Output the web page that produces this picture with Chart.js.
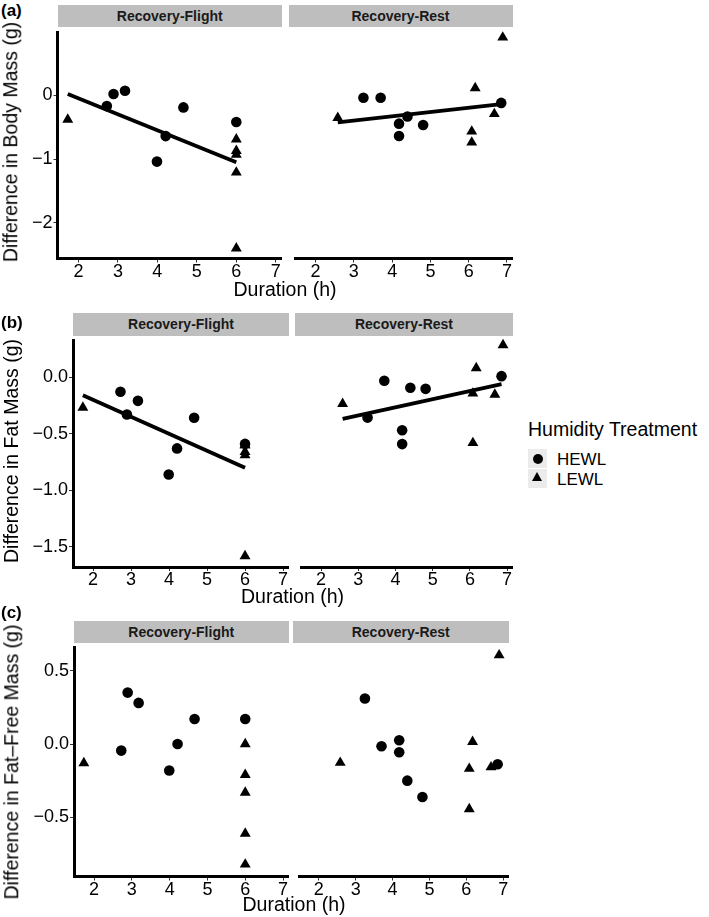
<!DOCTYPE html>
<html><head><meta charset="utf-8">
<script src="https://cdn.jsdelivr.net/npm/chart.js@4.4.0/dist/chart.umd.min.js"></script>
<style>
html,body{margin:0;padding:0;background:#fff;}
#wrap{position:relative;width:709px;height:917px;overflow:hidden;font-family:"Liberation Sans",Arial,Helvetica,sans-serif;color:#000;background:#fff;}
.abs{position:absolute;white-space:nowrap;line-height:1;}
canvas{position:absolute;}
.strip{position:absolute;background:#bebebe;color:#1a1a1a;font-weight:bold;font-size:14px;display:flex;align-items:center;justify-content:center;line-height:1;}
</style></head><body><div id="wrap"></div>
<script>
// ---------- data ----------
const facetNames = ["Recovery-Flight", "Recovery-Rest"];
const panelLabels = ["(a)", "(b)", "(c)"];
const yTitles = ["Difference in Body Mass (g)", "Difference in Fat Mass (g)", "Difference in Fat\u2013Free Mass (g)"];
const xTitle = "Duration (h)";
const legendTitle = "Humidity Treatment";
const legendLabels = ["HEWL", "LEWL"];
const xTicks = [2, 3, 4, 5, 6, 7];
const xTickLabels = ["2", "3", "4", "5", "6", "7"];
const yTicksA = [-2, -1, 0];
const yTickLabelsA = ["\u22122", "\u22121", "0"];
const yTicksB = [-1.5, -1, -0.5, 0];
const yTickLabelsB = ["\u22121.5", "\u22121.0", "\u22120.5", "0.0"];
const yTicksC = [-0.5, 0, 0.5];
const yTickLabelsC = ["\u22120.5", "0.0", "0.5"];

// durations (h)
const durFlightHEWL = [2.72, 2.89, 3.18, 3.99, 4.21, 4.66, 6.00];
const durFlightLEWL = [1.73, 6.00, 6.00, 6.00, 6.00, 6.00];
const durRestHEWL = [3.25, 3.70, 4.18, 4.18, 4.40, 4.81, 6.85];
const durRestLEWL = [2.58, 6.17, 6.08, 6.08, 6.67, 6.89];

// (a) body mass
const bodyFlightHEWL = [-0.17, 0.02, 0.07, -1.04, -0.64, -0.19, -0.42];
const bodyFlightLEWL = [-0.38, -0.69, -0.87, -0.93, -1.21, -2.40];
const bodyRestHEWL = [-0.08, -0.08, -0.48, -0.67, -0.37, -0.50, -0.16];
const bodyRestLEWL = [-0.39, 0.07, -0.60, -0.77, -0.33, 0.85];
// (b) fat mass
const fatFlightHEWL = [-0.13, -0.33, -0.21, -0.86, -0.63, -0.36, -0.59];
const fatFlightLEWL = [-0.27, -0.69, -0.66, -0.60, -0.60, -1.58];
const fatRestHEWL = [-0.38, -0.06, -0.49, -0.61, -0.12, -0.13, -0.02];
const fatRestLEWL = [-0.26, 0.05, -0.17, -0.60, -0.18, 0.25];
// (c) fat-free mass
const ffFlightHEWL = [-0.045, 0.35, 0.28, -0.18, 0.00, 0.17, 0.17];
const ffFlightLEWL = [-0.13, 0.00, -0.21, -0.33, -0.61, -0.82];
const ffRestHEWL = [0.29, -0.03, 0.01, -0.07, -0.26, -0.37, -0.15];
const ffRestLEWL = [-0.14, 0.00, -0.45, -0.18, -0.17, 0.58];

// fitted regression lines (endpoints)
const fitBodyFlightX = [1.73, 6.00], fitBodyFlightY = [0.02, -1.05];
const fitBodyRestX = [2.58, 6.85], fitBodyRestY = [-0.46, -0.18];
const fitFatFlightX = [1.73, 6.00], fitFatFlightY = [-0.16, -0.80];
const fitFatRestX = [2.58, 6.85], fitFatRestY = [-0.39, -0.09];

// ---------- layout ----------
const FONT = '"Liberation Sans", Arial, Helvetica, sans-serif';
const XMIN = 1.47, XMAX = 7.15;
const rows = [
  {t: 28.5, b: 258, L: [57.5, 282], R: [288.5, 512.5], ymin: -2.56, ymax: 0.98, yt: yTicksA, ytl: yTickLabelsA,
   strip: [5, 27], label: 10, ytitle: [11, 141.5], xtitle: [285, 290],
   data: [[durFlightHEWL, bodyFlightHEWL, durFlightLEWL, bodyFlightLEWL, fitBodyFlightX, fitBodyFlightY],
          [durRestHEWL, bodyRestHEWL, durRestLEWL, bodyRestLEWL, fitBodyRestX, fitBodyRestY]]},
  {t: 337, b: 567, L: [73, 289], R: [295, 513], ymin: -1.677, ymax: 0.32, yt: yTicksB, ytl: yTickLabelsB,
   strip: [312.5, 335.5], label: 322, ytitle: [12, 451], xtitle: [292.5, 597],
   data: [[durFlightHEWL, fatFlightHEWL, durFlightLEWL, fatFlightLEWL, fitFatFlightX, fitFatFlightY],
          [durRestHEWL, fatRestHEWL, durRestLEWL, fatRestLEWL, fitFatRestX, fitFatRestY]]},
  {t: 643.5, b: 876, L: [74, 288.5], R: [293, 508.5], ymin: -0.902, ymax: 0.655, yt: yTicksC, ytl: yTickLabelsC,
   strip: [621, 643], label: 612, ytitle: [12, 762], xtitle: [294, 905],
   data: [[durFlightHEWL, ffFlightHEWL, durFlightLEWL, ffFlightLEWL, null, null],
          [durRestHEWL, ffRestHEWL, durRestLEWL, ffRestLEWL, null, null]]}
];

const wrap = document.getElementById('wrap');
function addDiv(cls, text, style) {
  const d = document.createElement('div');
  d.className = cls; d.textContent = text;
  Object.assign(d.style, style);
  wrap.appendChild(d); return d;
}
const zip = (xs, ys) => xs.map((x, i) => ({x: x, y: ys[i]}));

const PT = 8, PR = 6, XH = 30;
rows.forEach((row, ri) => {
  [row.L, row.R].forEach((span, fi) => {
    const showY = fi === 0;
    const canvas = document.createElement('canvas');
    const left = showY ? 0 : span[0];
    const w = Math.round(span[1] - left + PR);
    const h = Math.round(row.b - row.t + PT + XH);
    canvas.width = w; canvas.height = h;
    canvas.style.left = left + 'px';
    canvas.style.top = (row.t - PT) + 'px';
    canvas.style.width = w + 'px'; canvas.style.height = h + 'px';
    wrap.appendChild(canvas);
    const d = row.data[fi];
    const datasets = [];
    if (d[4]) {
      datasets.push({type: 'line', data: zip(d[4], d[5]), borderColor: '#000', borderWidth: 3.8,
        pointRadius: 0, fill: false, showLine: true, clip: false, borderCapStyle: 'butt'});
    }
    datasets.push({label: 'HEWL', data: zip(d[0], d[1]), pointStyle: 'circle', pointRadius: 5.3,
      backgroundColor: '#000', borderWidth: 0, clip: false});
    datasets.push({label: 'LEWL', data: zip(d[2], d[3]), pointStyle: 'triangle', pointRadius: 6.3,
      backgroundColor: '#000', borderWidth: 0, clip: false});
    const chartAreaLeft = span[0] - left;
    const chartH = row.b - row.t;
    new Chart(canvas, {
      type: 'scatter',
      data: {datasets: datasets},
      options: {
        responsive: false, animation: false, devicePixelRatio: 1,
        layout: {padding: {top: PT, right: PR, left: 0, bottom: 0}},
        plugins: {legend: {display: false}, tooltip: {enabled: false}},
        scales: {
          x: {type: 'linear', min: XMIN, max: XMAX,
            afterBuildTicks: s => { s.ticks = xTicks.map(v => ({value: v})); },
            afterFit: s => { s.height = h - PT - chartH; },
            ticks: {callback: (v, i) => xTickLabels[i], color: '#000', padding: -1.5, maxRotation: 0, autoSkip: false,
              font: {family: FONT, size: 18}},
            grid: {display: true, drawOnChartArea: false, drawTicks: true, tickLength: 4, color: '#333', lineWidth: 1},
            border: {display: true, width: 3, color: '#000'}
          },
          y: {type: 'linear', min: row.ymin, max: row.ymax, display: showY,
            afterBuildTicks: s => { s.ticks = row.yt.map(v => ({value: v})); },
            afterFit: s => { s.width = chartAreaLeft; },
            ticks: {callback: (v, i) => row.ytl[i], color: '#000', padding: 1, autoSkip: false,
              font: {family: FONT, size: 18}},
            grid: {display: true, drawOnChartArea: false, drawTicks: true, tickLength: 4, color: '#333', lineWidth: 1},
            border: {display: true, width: 3, color: '#000'}
          }
        }
      }
    });
    // strip
    addDiv('strip', facetNames[fi], {left: span[0] + 'px', top: row.strip[0] + 'px',
      width: (span[1] - span[0]) + 'px', height: (row.strip[1] - row.strip[0]) + 'px'});
  });
  // panel label
  addDiv('abs', panelLabels[ri], {left: '1px', top: row.label + 'px', fontWeight: 'bold', fontSize: '17px',
    transform: 'translateY(-50%)'});
  // y title
  addDiv('abs', yTitles[ri], {left: row.ytitle[0] + 'px', top: row.ytitle[1] + 'px', fontSize: '19.5px',
    transform: 'translate(-50%,-50%) rotate(-90deg)'});
  // x title
  addDiv('abs', xTitle, {left: row.xtitle[0] + 'px', top: row.xtitle[1] + 'px', fontSize: '19.5px',
    transform: 'translate(-50%,-50%)'});
});

// legend
addDiv('abs', legendTitle, {left: '528px', top: '430px', fontSize: '19.5px', transform: 'translateY(-50%)'});
legendLabels.forEach((lab, i) => {
  const y0 = 449 + i * 19.5;
  addDiv('abs', '', {left: '528px', top: y0 + 'px', width: '19px', height: '19px', background: '#ebebeb'});
  if (i === 0) {
    addDiv('abs', '', {left: (537.5 - 5) + 'px', top: (y0 + 9.5 - 5) + 'px', width: '10px', height: '10px',
      borderRadius: '50%', background: '#000'});
  } else {
    addDiv('abs', '', {left: (537.5 - 5.5) + 'px', top: (y0 + 9.5 - 6) + 'px', width: '0', height: '0',
      borderLeft: '5.5px solid transparent', borderRight: '5.5px solid transparent', borderBottom: '9.5px solid #000'});
  }
  addDiv('abs', lab, {left: '557px', top: (y0 + 10) + 'px', fontSize: '17px', transform: 'translateY(-50%)'});
});
</script></body></html>
